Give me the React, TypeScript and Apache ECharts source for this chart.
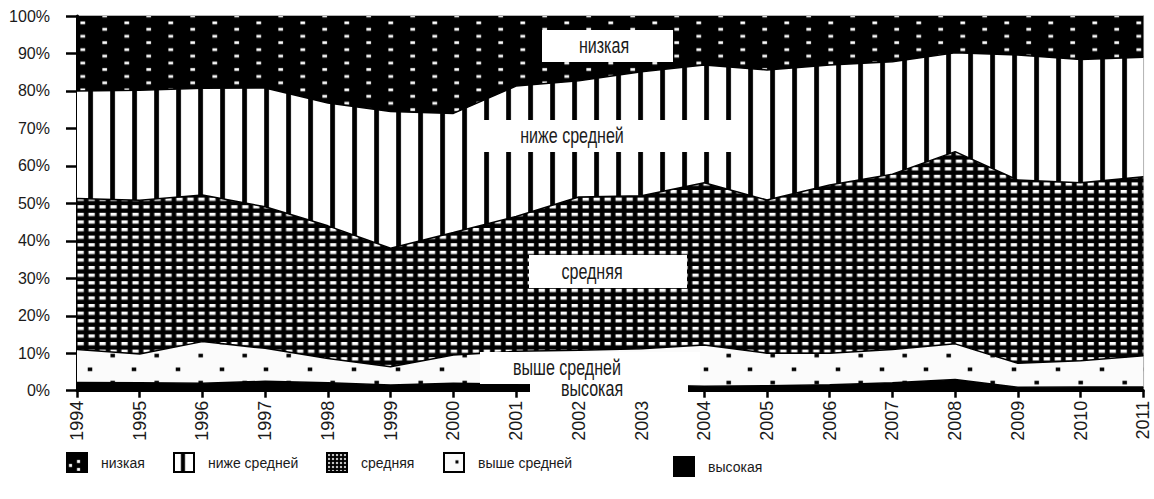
import React, { useEffect, useRef } from "react";
import * as echarts from "echarts";

const years = ["1994", "1995", "1996", "1997", "1998", "1999", "2000", "2001", "2002", "2003", "2004", "2005", "2006", "2007", "2008", "2009", "2010", "2011"];

// shares, % of total (bottom to top of the stack)
const vysokaya = [2.2, 2.1, 2.0, 2.5, 2.1, 1.5, 2.0, 1.8, 1.5, 1.5, 1.2, 1.3, 1.6, 2.1, 3.0, 0.9, 1.0, 1.0];
const vysheSredney = [8.8, 7.7, 11.1, 8.8, 6.5, 4.9, 7.5, 8.7, 9.3, 9.7, 11.0, 8.7, 8.4, 8.9, 9.5, 6.4, 7.0, 8.3];
const srednyaya = [40.3, 41.0, 39.1, 37.8, 35.4, 31.6, 32.7, 36.0, 40.9, 40.8, 43.3, 40.9, 44.9, 46.8, 51.3, 48.9, 47.5, 47.8];
const nizheSredney = [28.7, 29.4, 28.5, 31.7, 32.8, 36.5, 31.8, 34.8, 31.0, 33.1, 31.4, 34.7, 32.0, 30.0, 26.4, 33.4, 32.9, 31.9];
const nizkaya = [20.0, 19.8, 19.3, 19.2, 23.2, 25.5, 26.0, 18.7, 17.3, 14.9, 13.1, 14.4, 13.1, 12.2, 9.8, 10.4, 11.6, 11.0];

const seriesNames = ["высокая", "выше средней", "средняя", "ниже средней", "низкая"];
const legendOrder = ["низкая", "ниже средней", "средняя", "выше средней", "высокая"];

const FONT = "'Liberation Sans', Arial, sans-serif";
const TXT = "#1a1a1a";

type R = [number, number, number, number];
function makePattern(w: number, h: number, bg: string, fg: string, rects: R[]) {
  const s = 10;
  const c = document.createElement("canvas");
  c.width = Math.round(w * s);
  c.height = Math.round(h * s);
  const ctx = c.getContext("2d")!;
  ctx.fillStyle = bg;
  ctx.fillRect(0, 0, c.width, c.height);
  ctx.fillStyle = fg;
  for (const [x, y, rw, rh] of rects) {
    for (const dx of [-w, 0, w]) {
      for (const dy of [-h, 0, h]) {
        ctx.fillRect((x + dx) * s, (y + dy) * s, rw * s, rh * s);
      }
    }
  }
  return { image: c.toDataURL(), repeat: "repeat", imageWidth: w, imageHeight: h } as any;
}

export default function App() {
  const ref = useRef<HTMLDivElement>(null);
  useEffect(() => {
    const el = ref.current!;
    const chart = echarts.init(el, null, { renderer: "svg" });

    const fills: Record<string, any> = {
      "низкая": makePattern(44, 13.4, "#000", "#fff", [[36.4, 8.0, 4.7, 2.7], [14.4, 1.3, 4.7, 2.7]]),
      "ниже средней": makePattern(22, 10, "#fff", "#000", [[0.3, 0, 4.7, 10]]),
      "средняя": makePattern(10.98, 7.6, "#000", "#fff", [[0.8, 0, 6, 3.3]]),
      "выше средней": makePattern(44, 27, "#fbfbfb", "#000", [[22.5, 3, 4.5, 3.5], [-0.25, 16.5, 4.5, 3.5]]),
      "высокая": "#000",
    };
    const legendFills: Record<string, any> = {
      "низкая": makePattern(20, 20, "#000", "#fff", [[10, 7, 3, 3], [10, 15, 3, 3], [2, 11, 3, 3]]),
      "ниже средней": makePattern(22, 10, "#fff", "#000", [[7, 0, 4, 10]]),
      "средняя": makePattern(4, 4, "#000", "#fff", [[1, 1, 2, 2]]),
      "выше средней": makePattern(44, 27, "#fbfbfb", "#000", [[11.5, 7.5, 3, 3]]),
      "высокая": "#000",
    };
    const dataMap: Record<string, number[]> = {
      "высокая": vysokaya,
      "выше средней": vysheSredney,
      "средняя": srednyaya,
      "ниже средней": nizheSredney,
      "низкая": nizkaya,
    };

    const legendPos: Record<string, [number, number]> = {
      "низкая": [66, 452],
      "ниже средней": [173, 452],
      "средняя": [326, 452],
      "выше средней": [443, 452],
      "высокая": [673, 456],
    };

    const labelBox = (text: string, x: number, y: number, w: number, h: number, tx: number, ty: number) => [
      { type: "rect", z: 100, shape: { x, y, width: w, height: h }, style: { fill: "#fff" }, silent: true },
      {
        type: "text", z: 101, x: tx, y: ty, silent: true,
        style: { text, fill: TXT, font: `22px ${FONT}`, align: "center", verticalAlign: "middle" },
        scaleX: 0.73,
      },
    ];

    const option: any = {
      animation: false,
      backgroundColor: "#fff",
      grid: { left: 77, top: 16, width: 1066.3, height: 374.7, show: true, borderColor: "#999", borderWidth: 1.5, backgroundColor: "transparent" },
      xAxis: {
        type: "category",
        boundaryGap: false,
        data: years,
        axisLine: { lineStyle: { color: "#000", width: 3 } },
        axisTick: { length: 7, lineStyle: { color: "#000", width: 2.5 } },
        axisLabel: { rotate: 90, margin: 10, fontFamily: FONT, fontSize: 18, color: TXT, interval: 0 },
        splitLine: { show: false },
      },
      yAxis: {
        type: "value",
        min: 0,
        max: 100,
        interval: 10,
        axisLine: { show: true, lineStyle: { color: "#000", width: 3 } },
        axisTick: { show: true, length: 11, lineStyle: { color: "#000", width: 2.5 } },
        axisLabel: { formatter: "{value}%", margin: 27, fontFamily: FONT, fontSize: 16, color: TXT, padding: [7, 0, 0, 0] },
        splitLine: { show: false },
      },
      legend: legendOrder.map((name) => ({
        data: [{ name, icon: "rect", itemStyle: { color: legendFills[name], borderColor: "#000", borderWidth: 2 } }],
        left: legendPos[name][0],
        top: legendPos[name][1],
        padding: 0,
        itemWidth: 20,
        itemHeight: 19,
        selectedMode: false,
        textStyle: { fontFamily: FONT, fontSize: 14, color: TXT, padding: [3, 0, 0, 9] },
      })),
      series: seriesNames.map((name) => ({
        type: "line",
        name,
        data: dataMap[name],
        stack: "total",
        showSymbol: false,
        symbol: "none",
        silent: true,
        lineStyle: { color: "#000", width: name === "низкая" ? 0 : 1.5, opacity: name === "низкая" ? 0 : 1 },
        itemStyle: { color: fills[name] },
        areaStyle: { color: fills[name], opacity: 1 },
        emphasis: { disabled: true },
      })),
      graphic: [
        ...labelBox("низкая", 542, 30, 131, 32, 604, 46),
        ...labelBox("ниже средней", 483, 120, 250, 32, 572, 136),
        ...labelBox("средняя", 529, 255, 158, 33, 592, 272),
        ...labelBox("выше средней", 480, 352, 220, 32, 567, 368),
        ...labelBox("высокая", 530, 378, 158, 21, 592, 389),
      ],
    };
    chart.setOption(option);
    return () => chart.dispose();
  }, []);
  return <div ref={ref} style={{ position: "absolute", left: 0, top: 0, width: 1154, height: 499, background: "#fff" }} />;
}
